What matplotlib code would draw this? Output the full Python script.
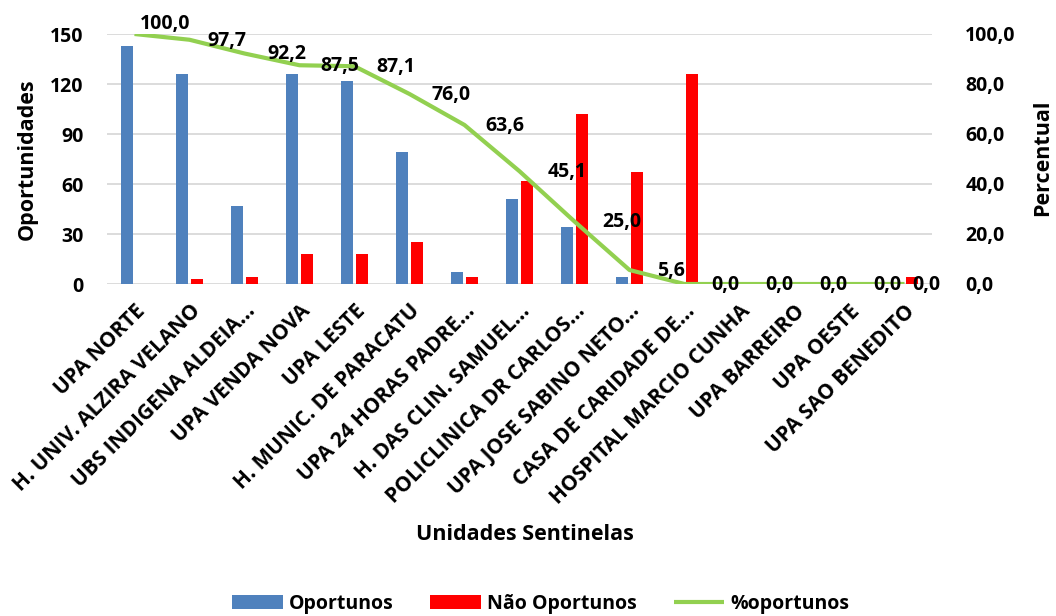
import numpy as np
import matplotlib.pyplot as plt
from matplotlib.ticker import FuncFormatter

unidades = ['UPA NORTE', 'H. UNIV. ALZIRA VELANO', 'UBS INDIGENA ALDEIA...',
            'UPA VENDA NOVA', 'UPA LESTE', 'H. MUNIC. DE PARACATU',
            'UPA 24 HORAS PADRE...', 'H. DAS CLIN. SAMUEL...',
            'POLICLINICA DR CARLOS...', 'UPA JOSE SABINO NETO...',
            'CASA DE CARIDADE DE...', 'HOSPITAL MARCIO CUNHA', 'UPA BARREIRO',
            'UPA OESTE', 'UPA SAO BENEDITO']
oportunos = [143, 126, 47, 126, 122, 79, 7, 51, 34, 4, 0, 0, 0, 0, 0]
nao_oportunos = [0, 3, 4, 18, 18, 25, 4, 62, 102, 67, 126, 0, 0, 0, 4]
pct_oportunos = [100.0, 97.7, 92.2, 87.5, 87.1, 76.0, 63.6, 45.1, 25.0, 5.6,
                 0.0, 0.0, 0.0, 0.0, 0.0]

plt.rcParams['font.family'] = ['Open Sans', 'DejaVu Sans']
plt.rcParams['font.weight'] = 'bold'

fig = plt.figure(figsize=(10.56, 6.16), dpi=100)
ax = fig.add_axes([107/1056, 1-284/616, 825/1056, 250/616])
ax2 = ax.twinx()

x = np.arange(len(unidades))
w = 0.22
ax.bar(x - 0.137, oportunos, w, color='#4f81bd', label='Oportunos', zorder=2)
ax.bar(x + 0.137, nao_oportunos, w, color='#ff0000', label='Não Oportunos', zorder=2)
ax2.plot(x, pct_oportunos, color='#92d050', lw=3, label='%oportunos',
         solid_capstyle='butt', zorder=3)

ax.set_xlim(-0.5, len(unidades) - 0.5)
ax.set_ylim(0, 150)
ax.set_yticks(range(0, 151, 30))
ax2.set_ylim(0, 100)
ax2.set_yticks(range(0, 101, 20))
ax2.yaxis.set_major_formatter(FuncFormatter(lambda v, p: f'{v:.1f}'.replace('.', ',')))

ax.grid(axis='y', color='#d9d9d9', lw=1.3, zorder=0)
ax.set_axisbelow(True)
for a in (ax, ax2):
    for s in a.spines.values():
        s.set_visible(False)
    a.tick_params(length=0, labelsize=14)
ax.tick_params(axis='y', pad=17)
ax2.tick_params(axis='y', pad=24)

ax.set_xticks(x)
ax.set_xticklabels(unidades, rotation=45, ha='right', va='top',
                   rotation_mode='anchor', fontsize=15)
ax.tick_params(axis='x', pad=12)

# rótulos do percentual à direita de cada ponto
dx = [5.5, 17.5, 22.5, 20.5, 21.5, 22.5, 20.5, 28.5, 27.5, 27.5,
      26.5, 25.5, 24.5, 23.5, 7.5]
dy = [10, -1, 0, -1, -1, -1, -1, -1, -1, -1, -1, -1, -1, -1, -1]
for i, v in enumerate(pct_oportunos):
    ax2.annotate(f'{v:.1f}'.replace('.', ','), (x[i], v), xytext=(dx[i], dy[i]),
                 textcoords='offset pixels', ha='left', va='center',
                 fontsize=14, fontweight='bold', zorder=4)

fig.text(27/1056, 1-159/616, 'Oportunidades', rotation=90, ha='center',
         va='center', fontsize=15.5)
fig.text(1043/1056, 1-158/616, 'Percentual', rotation=90, ha='center',
         va='center', fontsize=15.5)
fig.text(525/1056, 1-535/616, 'Unidades Sentinelas', ha='center',
         va='center', fontsize=15.5)

h1, l1 = ax.get_legend_handles_labels()
h2, l2 = ax2.get_legend_handles_labels()
fig.legend(h1 + h2, l1 + l2, loc='center', bbox_to_anchor=(0.512, 1-604/616),
           ncol=3, frameon=False, fontsize=14, handlelength=2.6,
           handleheight=0.75, columnspacing=1.9, handletextpad=0.3)

plt.savefig('out.png', dpi=100)
